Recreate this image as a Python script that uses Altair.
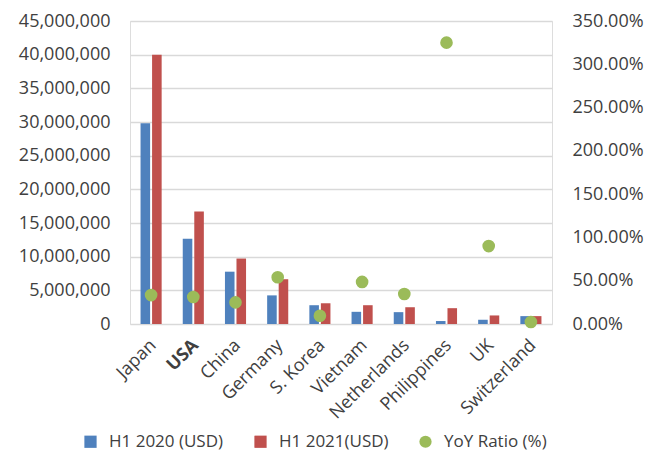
import altair as alt
import pandas as pd

countries = ["Japan", "USA", "China", "Germany", "S. Korea", "Vietnam",
             "Netherlands", "Philippines", "UK", "Switzerland"]
h1_2020 = [29800000, 12650000, 7770000, 4250000, 2790000, 1810000,
           1760000, 440000, 630000, 1170000]
h1_2021 = [40000000, 16700000, 9720000, 6650000, 3080000, 2790000,
           2490000, 2350000, 1270000, 1170000]
yoy_pct = [33.4, 31.2, 25.0, 54.0, 9.5, 48.6, 34.6, 325.0, 90.0, 2.3]

series = ["H1 2020 (USD)", "H1 2021(USD)", "YoY Ratio (%)"]
colors = ["#4F81BD", "#C0504D", "#9BBB59"]
shapes = ["square", "square", "circle"]

bars_df = pd.DataFrame(
    [{"country": c, "series": series[0], "value": v} for c, v in zip(countries, h1_2020)]
    + [{"country": c, "series": series[1], "value": v} for c, v in zip(countries, h1_2021)]
)
pts_df = pd.DataFrame(
    [{"country": c, "series": series[2], "ratio": v / 100} for c, v in zip(countries, yoy_pct)]
)

FONT = "Open Sans"
TXT = "#404040"

color_scale = alt.Scale(domain=series, range=colors)
legend = alt.Legend(
    title=None, orient="none", legendX=-48, legendY=412, direction="horizontal",
    symbolSize=150, labelFontSize=17, labelFont=FONT, labelColor=TXT,
    labelOffset=10, columnPadding=28, padding=0, symbolStrokeWidth=0,
)

x_enc = alt.X(
    "country:N", sort=countries, title=None,
    scale=alt.Scale(paddingInner=0.5, paddingOuter=0.25),
    axis=alt.Axis(labelAngle=-45, labelFontSize=18, labelFont=FONT, labelColor=TXT,
                  domain=False, ticks=False, labelPadding=12, labelOffset=-4,
                  labelFontWeight={"expr": "datum.value == 'USA' ? 'bold' : 'normal'"}),
)

bars = alt.Chart(bars_df).mark_bar().encode(
    x=x_enc,
    xOffset=alt.XOffset("series:N", sort=series[:2], scale=alt.Scale(paddingInner=0.17)),
    y=alt.Y("value:Q", title=None,
            scale=alt.Scale(domain=[0, 45000000], nice=False),
            axis=alt.Axis(values=list(range(0, 45000001, 5000000)), format=",d",
                          labelFontSize=18, labelFont=FONT, labelColor=TXT,
                          labelPadding=20, domain=False, ticks=False,
                          grid=True, gridColor="#D9D9D9", gridWidth=1.5)),
    color=alt.Color("series:N", scale=color_scale, legend=legend),
)

points = alt.Chart(pts_df).mark_point(filled=True, size=160, opacity=1).encode(
    x=alt.X("country:N", sort=countries),
    y=alt.Y("ratio:Q", title=None,
            scale=alt.Scale(domain=[0, 3.5], nice=False),
            axis=alt.Axis(orient="right", values=[i * 0.5 for i in range(8)], format=".2%",
                          labelFontSize=18, labelFont=FONT, labelColor=TXT,
                          labelPadding=20, domain=False, ticks=False, grid=False)),
    color=alt.Color("series:N", scale=color_scale, legend=legend),
    shape=alt.Shape("series:N", scale=alt.Scale(domain=series, range=shapes), legend=legend),
)

chart = alt.layer(bars, points).resolve_scale(y="independent").properties(
    width=422, height=303,
    autosize=alt.AutoSizeParams(type="none"),
    padding={"left": 122, "top": 13, "right": 96, "bottom": 130},
).configure_view(stroke=None).configure(background="white")

chart.save("out.html", embed_options={"renderer": "svg", "actions": False})
